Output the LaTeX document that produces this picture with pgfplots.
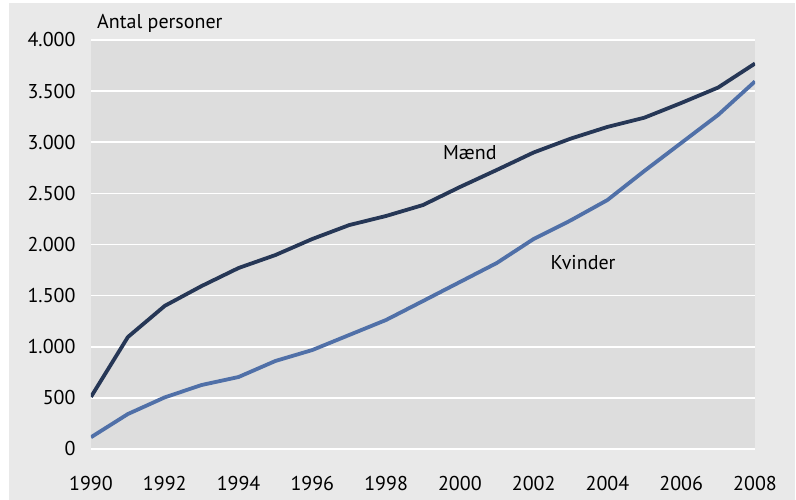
\documentclass[border=0pt]{standalone}
\usepackage{fontspec}
\setmainfont{PT Sans}
\usepackage{pgfplots}
\pgfplotsset{compat=1.18}

\definecolor{outerbg}{HTML}{E9E9E9}
\definecolor{plotbg}{HTML}{DDDDDD}
\definecolor{maend}{HTML}{263756}
\definecolor{kvinder}{HTML}{5070A8}

\newcommand{\lbl}{\fontsize{20}{23}\selectfont}

\begin{document}
\begin{tikzpicture}[x=1pt,y=1pt]
% page and grey frame (image pixels -> pt, axis box lower left at 0,0)
\fill[white] (-91,-51) rectangle (705,449);
\fill[outerbg] (-82,-51) rectangle (704,446);
\begin{axis}[
    scale only axis,
    width=664pt, height=409pt,
    at={(0,0)}, anchor=south west,
    xmin=1990, xmax=2008, ymin=0, ymax=4000,
    xtick={1990,1992,...,2008},
    ytick={0,500,...,4000},
    axis background/.style={fill=plotbg},
    axis line style={draw=none},
    major tick length=0pt,
    ymajorgrids=true,
    grid style={white, line width=1.6pt},
    tick label style={font=\lbl},
    /pgf/number format/assume math mode=true,
    yticklabel style={/pgf/number format/1000 sep={.}, xshift=-12pt},
    xticklabel style={/pgf/number format/1000 sep={}, anchor=base, yshift=-42pt},
    every axis plot/.append style={line width=3.8pt, line join=round},
]
\addplot[maend] coordinates {
    (1990,510) (1991,1095) (1992,1400) (1993,1594) (1994,1770)
    (1995,1897) (1996,2054) (1997,2190) (1998,2279) (1999,2386)
    (2000,2562) (2001,2729) (2002,2900) (2003,3035) (2004,3150)
    (2005,3240) (2006,3384) (2007,3535) (2008,3770)
};
\addplot[kvinder] coordinates {
    (1990,115) (1991,342) (1992,505) (1993,626) (1994,704)
    (1995,861) (1996,968) (1997,1115) (1998,1262) (1999,1447)
    (2000,1633) (2001,1819) (2002,2054) (2003,2235) (2004,2435)
    (2005,2719) (2006,2993) (2007,3267) (2008,3595)
};
\node[font=\lbl, anchor=base, inner sep=0pt] at (axis cs:2000.27,2836) {Mænd};
\node[font=\lbl, anchor=base, inner sep=0pt] at (axis cs:2003.34,1760) {Kvinder};
\end{axis}
\node[font=\lbl, anchor=base west, inner sep=0pt] at (6,420) {Antal personer};
\end{tikzpicture}
\end{document}
